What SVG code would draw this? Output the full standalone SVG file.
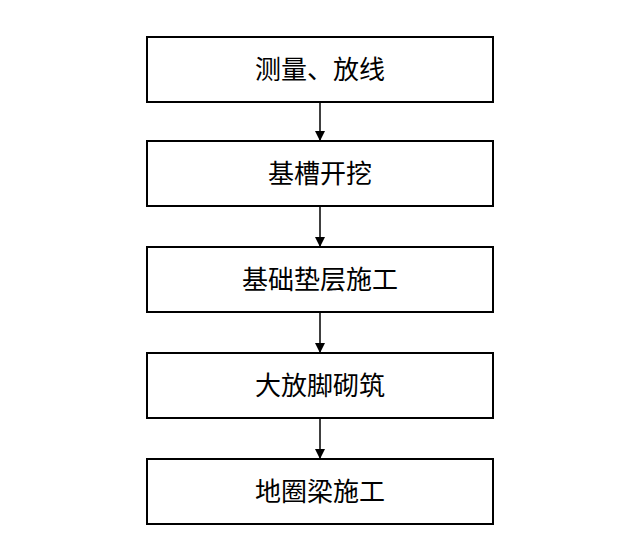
<svg xmlns="http://www.w3.org/2000/svg" width="640" height="554" viewBox="0 0 640 554">
<style>
.b{fill:#fff;stroke:#000;stroke-width:2}
.t{font-family:"Liberation Sans","Noto Sans CJK SC",sans-serif;font-size:26px;text-anchor:middle;fill:#000}
.c{stroke:#000;stroke-width:1.5;fill:none}
</style>
<defs><marker id="a" markerWidth="10" markerHeight="10" refX="9" refY="5" orient="auto" markerUnits="userSpaceOnUse"><path d="M0,0 L10,5 L0,10 z" fill="#000"/></marker></defs>
<rect width="640" height="554" fill="#fff"/>
<g id="n1"><rect class="b" x="147" y="37" width="346" height="65"/><text class="t" x="320" y="79">测量、放线</text></g>
<g id="n2"><rect class="b" x="147" y="141" width="346" height="65"/><text class="t" x="320" y="183">基槽开挖</text></g>
<g id="n3"><rect class="b" x="147" y="247" width="346" height="65"/><text class="t" x="320" y="289">基础垫层施工</text></g>
<g id="n4"><rect class="b" x="147" y="353" width="346" height="65"/><text class="t" x="320" y="395">大放脚砌筑</text></g>
<g id="n5"><rect class="b" x="147" y="459" width="346" height="65"/><text class="t" x="320" y="501">地圈梁施工</text></g>
<g id="connectors">
<line class="c" x1="320" y1="102" x2="320" y2="140" marker-end="url(#a)"/>
<line class="c" x1="320" y1="206" x2="320" y2="246" marker-end="url(#a)"/>
<line class="c" x1="320" y1="312" x2="320" y2="352" marker-end="url(#a)"/>
<line class="c" x1="320" y1="418" x2="320" y2="458" marker-end="url(#a)"/>
</g>
</svg>
